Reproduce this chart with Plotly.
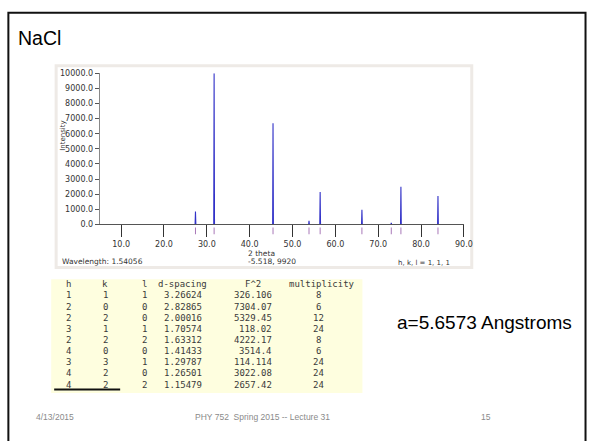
import plotly.graph_objects as go

W, H = 596, 446

# ---------------- data ----------------
peak_two_theta = [27.35, 31.70, 45.45, 53.85, 56.45, 66.20, 73.05, 75.30, 83.95]
peak_intensity = [860, 10000, 6690, 250, 2140, 970, 110, 2500, 1880]
x_ticks = [10, 20, 30, 40, 50, 60, 70, 80, 90]
y_ticks = [0, 1000, 2000, 3000, 4000, 5000, 6000, 7000, 8000, 9000, 10000]

col_h = ["1", "2", "2", "3", "2", "4", "3", "4", "4"]
col_k = ["1", "0", "2", "1", "2", "0", "3", "2", "2"]
col_l = ["1", "0", "0", "1", "2", "0", "1", "0", "2"]
col_d = ["3.26624", "2.82865", "2.00016", "1.70574", "1.63312", "1.41433", "1.29787", "1.26501", "1.15479"]
col_f2 = ["326.106", "7304.07", "5329.45", "118.02", "4222.17", "3514.4", "114.114", "3022.08", "2657.42"]
col_mult = ["8", "6", "12", "24", "8", "6", "24", "24", "24"]
headers = ["h", "k", "l", "d-spacing", "F^2", "multiplicity"]

# ---------------- helpers ----------------
def px(x):
    return x / W

def py(y):
    return 1 - y / H

X0, X1 = 5, 90
xl = 123 - (10 - X0) * 4.35
xr = 471
yb, yt = 225, 70.7

half_w = 0.09
lx, ly = [X0], [0]
for p, i in zip(peak_two_theta, peak_intensity):
    lx += [p - half_w, p, p + half_w]
    ly += [0, i, 0]
lx.append(X1)
ly.append(0)

fig = go.Figure()
fig.add_trace(go.Scatter(
    x=lx, y=ly, mode="lines",
    line=dict(color="#3232c8", width=1.1),
    hoverinfo="skip", cliponaxis=False, showlegend=False,
))
# reflection markers in a thin strip below the axis
fig.add_trace(go.Scatter(
    x=peak_two_theta, y=[0.5] * len(peak_two_theta), mode="markers", yaxis="y2",
    marker=dict(symbol="line-ns", size=6, line=dict(color="#a878b8", width=1)),
    hoverinfo="skip", showlegend=False,
))

shapes = [
    dict(type="path", xref="paper", yref="paper",
         path=f"M {px(8.5)},{py(446)} L {px(8.5)},{py(9)} L {px(594.5)},{py(9)} L {px(594.5)},{py(446)}",
         line=dict(color="#111111", width=2), layer="below"),
    dict(type="rect", xref="paper", yref="paper", x0=px(57), x1=px(479), y0=py(269), y1=py(63),
         line=dict(color="#eeeae6", width=3), fillcolor="white", layer="below"),
    dict(type="rect", xref="paper", yref="paper", x0=px(52), x1=px(368), y0=py(397), y1=py(281),
         line=dict(width=0), fillcolor="#fefedf", layer="below"),
    dict(type="line", xref="paper", yref="paper", x0=px(55), x1=px(122), y0=py(393.5), y1=py(393.5),
         line=dict(color="#111111", width=2)),
]

ann = []

def text(x, y, s, size, color="#333333", family="DejaVu Sans", xanchor="left", angle=0):
    ann.append(dict(x=px(x), y=py(y), xref="paper", yref="paper", text=s, showarrow=False,
                    xanchor=xanchor, yanchor="middle", textangle=angle,
                    font=dict(size=size, color=color, family=family)))

text(16, 35, "NaCl", 19.5, "#000000", "Liberation Sans")
text(64.5, 135, "Intensity", 7, "#333333", "DejaVu Sans", "center", -90)
text(250, 255, "2 theta", 7.5)
text(250, 263, "-5.518, 9920", 7.5)
text(61, 263, "Wavelength: 1.54056", 7.5)
text(402, 264, "h, k, l = 1, 1, 1", 7)
text(401, 325, "a=5.6573 Angstroms", 19, "#000000", "Liberation Sans")

grey = "#8a8a8a"
text(35, 421, "4/13/2015", 8.5, grey, "Liberation Sans")
text(196, 421, "PHY 752  Spring 2015 -- Lecture 31", 8.5, grey, "Liberation Sans")
text(486, 421, "15", 8.5, grey, "Liberation Sans")

mono = "DejaVu Sans Mono"
tc = "#3a3a3a"
hdr_x = [69.5, 107, 146.5, 185, 257, 327]
for hx, hs in zip(hdr_x, headers):
    text(hx, 286, hs, 9, tc, mono, "center")
for r in range(len(col_h)):
    yy = 297.5 + r * 11.37
    text(69.5, yy, col_h[r], 9, tc, mono, "center")
    text(107, yy, col_k[r], 9, tc, mono, "center")
    text(146.5, yy, col_l[r], 9, tc, mono, "center")
    text(186, yy, col_d[r], 9, tc, mono, "center")
    text(278.5, yy, col_f2[r], 9, tc, mono, "right")
    text(323.5, yy, col_mult[r], 9, tc, mono, "center")

fig.update_layout(
    width=W, height=H, margin=dict(l=0, r=0, t=0, b=0),
    paper_bgcolor="white", plot_bgcolor="rgba(0,0,0,0)",
    shapes=shapes, annotations=ann, showlegend=False,
    xaxis=dict(domain=[px(xl), px(xr)], range=[X0, X1], tickvals=x_ticks, tickformat=".1f",
               ticks="outside", ticklen=12, tickcolor="#333333", showgrid=False, zeroline=False,
               showline=True, linecolor="#555555", linewidth=1,
               tickfont=dict(family="DejaVu Sans", size=8, color="#333333")),
    yaxis=dict(domain=[py(yb), py(yt)], range=[0, 10000], tickvals=y_ticks, tickformat=".1f",
               ticks="outside", ticklen=4, tickcolor="#555555", showgrid=False, zeroline=False,
               showline=True, linecolor="#888888", linewidth=1,
               tickfont=dict(family="DejaVu Sans", size=8, color="#333333")),
    yaxis2=dict(domain=[py(235), py(228)], range=[0, 1], anchor="x", showline=False,
                showgrid=False, zeroline=False, showticklabels=False, ticks=""),
)

fig.write_html("out.html")
